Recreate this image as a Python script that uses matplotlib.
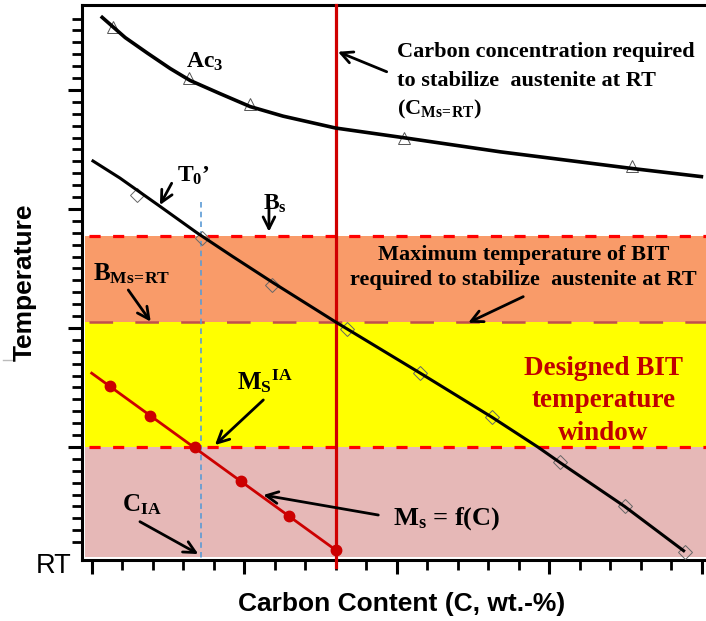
import matplotlib
matplotlib.use("Agg")
import matplotlib.pyplot as plt
from matplotlib.ticker import MultipleLocator, FixedLocator, NullFormatter
from matplotlib.lines import Line2D

plt.rcParams['lines.scale_dashes'] = False
plt.rcParams['mathtext.fontset'] = 'custom'
plt.rcParams['mathtext.rm'] = 'Liberation Serif:bold'
plt.rcParams['mathtext.it'] = 'Liberation Serif:bold:italic'
plt.rcParams['mathtext.bf'] = 'Liberation Serif:bold'

# Ac3 curve (fitted line) and its measured points
ac3_curve_x = [0.012, 0.044, 0.073, 0.103, 0.129, 0.168, 0.208, 0.251, 0.320, 0.408, 0.536, 0.709, 0.802]
ac3_curve_y = [462, 444, 431, 418, 408, 397, 386, 378, 368, 360, 348, 334, 327]
ac3_pts_x = [0.028, 0.128, 0.208, 0.409, 0.709]
ac3_pts_y = [453, 410, 388, 360, 336]

# T0' curve and points
t0_curve_x = [0.000, 0.037, 0.090, 0.138, 0.185, 0.238, 0.320, 0.431, 0.525, 0.585, 0.614, 0.699, 0.778]
t0_curve_y = [341, 326, 302, 280, 260, 238, 205, 162, 125, 100, 87, 50, 12]
t0_pts_x = [0.060, 0.145, 0.237, 0.335, 0.431, 0.525, 0.614, 0.699, 0.778]
t0_pts_y = [312, 276, 236, 199, 162, 125, 87, 50, 12]

# Ms = f(C)
ms_line_x = [0.000, 0.320]
ms_line_y = [162, 13.4]
ms_pts_x = [0.024, 0.077, 0.135, 0.196, 0.259, 0.320]
ms_pts_y = [151.5, 126, 100, 71.5, 42, 13.4]

# characteristic levels
bs_temp = 277        # B_s
b_ms_rt = 205        # B_Ms=RT
ms_ia = 100          # M_S^IA
band_bottom = 7.8
c_ms_rt = 0.320
c_ia = 0.143
t0_cross_y = 306     # top of the C_IA guide line

fig = plt.figure(figsize=(7.06, 6.21), dpi=100)
ax = fig.add_axes([82 / 706, 61 / 621, 624 / 706, 555 / 621])
ax.set_xlim(-0.0127, 0.8057)
ax.set_ylim(5, 471.4)

# temperature bands
xb = 0.005
ax.axhspan(b_ms_rt, bs_temp, xmin=xb, xmax=1, color='#F99B69', lw=0, zorder=0)
ax.axhspan(ms_ia, b_ms_rt, xmin=xb, xmax=1, color='#FFFF00', lw=0, zorder=0)
ax.axhspan(band_bottom, ms_ia, xmin=xb, xmax=1, color='#E6B8B7', lw=0, zorder=0)

ax.axhline(bs_temp, xmin=0.012, xmax=1, color='#FF0000', lw=2.3, dashes=(8, 9), zorder=1)
ax.axhline(ms_ia, xmin=0.012, xmax=1, color='#FF0000', lw=2.3, dashes=(8, 9), zorder=1)
ax.axhline(b_ms_rt, xmin=0.012, xmax=1, color='#C0504D', lw=1.8, dashes=(17, 16), zorder=1)

# vertical guides
ax.plot([c_ia, c_ia], [t0_cross_y, 3], color='#5B9BD5', lw=1.2, dashes=(4, 3), clip_on=False, zorder=2)
ax.plot([c_ms_rt, c_ms_rt], [471.4, -1], color='#D00000', lw=2.3, clip_on=False, zorder=3)

# curves
ax.plot(ac3_pts_x, ac3_pts_y, ls='none', marker='^', ms=9, mfc='none', mec='#555555', mew=0.7, zorder=4)
ax.plot(ac3_curve_x, ac3_curve_y, color='black', lw=2.6, zorder=5, solid_capstyle='butt', solid_joinstyle='round')
ax.plot(t0_pts_x, t0_pts_y, ls='none', marker='D', ms=7, mfc='none', mec='#666666', mew=0.7, zorder=4)
ax.plot(t0_curve_x, t0_curve_y, color='black', lw=2.2, zorder=5, solid_capstyle='butt', solid_joinstyle='round')
ax.plot(ms_line_x, ms_line_y, color='#CC0000', lw=2.0, zorder=5)
ax.plot(ms_pts_x, ms_pts_y, ls='none', marker='o', ms=7.5, color='#CC0000', zorder=6, clip_on=False)

# spines and ticks
ax.spines['right'].set_visible(False)
for s in ['left', 'bottom', 'top']:
    ax.spines[s].set_linewidth(2.2)
ax.xaxis.set_major_locator(MultipleLocator(0.2))
ax.xaxis.set_minor_locator(MultipleLocator(0.04))
ax.yaxis.set_major_locator(FixedLocator([100, 200, 300, 400]))
ax.yaxis.set_minor_locator(FixedLocator([v for v in range(20, 470, 10) if v % 100]))
ax.xaxis.set_major_formatter(NullFormatter())
ax.yaxis.set_major_formatter(NullFormatter())
ax.tick_params(which='major', direction='out', length=10, width=2.2, top=False, right=False)
ax.tick_params(which='minor', direction='out', length=7, width=2.0, top=False, right=False)

serif = dict(family='Liberation Serif', fontweight='bold')

# labels on curves
ax.text(0.1237, 418.4, r'Ac$_{\rm 3}$', fontsize=17, ha='left', va='baseline', **serif)
ax.text(0.1118, 322.9, r'T$_{\rm 0}$’', fontsize=17, ha='left', va='baseline', **serif)
ax.text(0.2247, 299.1, r'B$_{\rm s}$', fontsize=17, ha='left', va='baseline', **serif)
ax.text(0.0017, 240.3, r'B$_{\rm Ms\!=\!RT}$', fontsize=18, ha='left', va='baseline', **serif)
ax.text(0.1906, 148.4, r'M$_{\rm S}{}^{\rm IA}$', fontsize=18, ha='left', va='baseline', **serif)
ax.text(0.3951, 34.4, r'M$_{\rm s}$ = f(C)', fontsize=19, ha='left', va='baseline', **serif)
ax.text(0.0398, 45.6, r'C$_{\rm IA}$', fontsize=18, ha='left', va='baseline', **serif)

cms_lines = ['Carbon concentration required', 'to stabilize  austenite at RT', r'(C$_{\rm Ms\!=\!RT}$)']
cms_y = [427.3, 403.7, 379.3]
for t, yy in zip(cms_lines, cms_y):
    ax.text(0.4004, yy, t, fontsize=16, ha='left', va='baseline', **serif)

max_lines = ['Maximum temperature of BIT', 'required to stabilize  austenite at RT']
max_y = [257.4, 236.0]
for t, yy in zip(max_lines, max_y):
    ax.text(0.5663, yy, t, fontsize=16, ha='center', va='baseline', **serif)

win_lines = ['Designed BIT', 'temperature', 'window']
win_y = [160.1, 133.5, 105.8]
for t, yy in zip(win_lines, win_y):
    ax.text(0.6710, yy, t, fontsize=19.5, ha='center', va='baseline', color='#C00000', **serif)

# arrows (tail -> head)
arrows = [
    ((0.3869, 415.3), (0.3230, 432.1)),
    ((0.1049, 321.6), (0.0895, 303.3)),
    ((0.2325, 301.9), (0.2325, 280.9)),
    ((0.0480, 231.9), (0.0774, 205.3)),
    ((0.5660, 226.3), (0.4939, 204.4)),
    ((0.2251, 139.5), (0.1617, 101.6)),
    ((0.3759, 42.8), (0.2251, 59.6)),
    ((0.0633, 37.2), (0.1398, 10.0)),
]
for tail, head in arrows:
    ax.annotate('', xy=head, xytext=tail,
                arrowprops=dict(arrowstyle='->,head_length=0.6,head_width=0.3', mutation_scale=14,
                                lw=2.0, color='black', shrinkA=0, shrinkB=0), zorder=7)

# axis titles
sans = dict(family='Liberation Sans', fontweight='bold')
fig.text(402 / 706, 1 - 604 / 621, 'Carbon Content (C, wt.-%)', fontsize=19, ha='center', va='center', **sans)
fig.text(25 / 706, 1 - 282 / 621, 'Temperature', fontsize=19, rotation=90, ha='center', va='center', **sans)
fig.text(72 / 706, 1 - 566 / 621, 'RT', fontsize=19.5, ha='right', va='center', family='Liberation Sans')
fig.add_artist(Line2D([3 / 706, 13 / 706], [1 - 360 / 621, 1 - 360 / 621], color='#BBBBBB', lw=1))

fig.savefig('out.png', dpi=100)
